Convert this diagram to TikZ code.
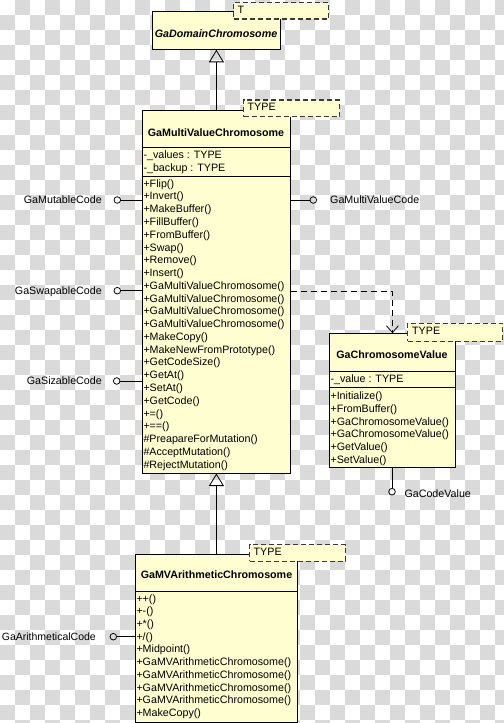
\documentclass[tikz,border=0pt]{standalone}
\usepackage{fontspec}
\setmainfont{Liberation Sans}
\usetikzlibrary{arrows.meta,calc}
\definecolor{classfill}{HTML}{FEFED0}
\definecolor{checkgray}{HTML}{DADADA}
\definecolor{tmplline}{HTML}{3A3A3A}
\tikzset{
  umlbox/.style={draw=black, line width=0.8bp, fill=classfill, rectangle, inner sep=0pt, anchor=north west},
  tmplbox/.style={draw=tmplline, line width=1.2bp, dash pattern=on 5bp off 3bp, fill=classfill, rectangle, inner sep=0pt, anchor=north west},
  txt/.style={font=\fontsize{10.7bp}{12.8bp}\selectfont, inner sep=0pt, anchor=west, text height=7.7bp, text depth=0bp},
  titletxt/.style={txt, anchor=center, font=\fontsize{10.7bp}{12.8bp}\selectfont\bfseries},
  divider/.style={draw=black, line width=0.8bp},
  conn/.style={draw=black, line width=0.8bp},
  gen/.style={conn, -{Triangle[open, length=12.5bp, width=15bp, line width=0.8bp]}},
  dep/.style={conn, dash pattern=on 6bp off 4bp, -{Straight Barb[length=7bp, width=12bp, line width=0.8bp]}},
  lolli/.style={circle, draw=black, line width=0.8bp, minimum size=6.6bp, inner sep=0pt}
}
\begin{document}
\begin{tikzpicture}[x=1bp,y=-1bp]
\useasboundingbox (0,0) rectangle (504,723);
% transparent-style checker background
\foreach \i in {0,...,33}{%
  \foreach \j in {0,...,48}{%
    \pgfmathtruncatemacro{\chk}{mod(\i+\j,2)}%
    \ifnum\chk=1 \fill[checkgray] (\i*15,\j*15) rectangle ++(15,15);\fi
  }%
}

% ---------- class boxes ----------
\node[umlbox, minimum width=128bp, minimum height=38bp] (dom) at (152,11) {};
\node[umlbox, minimum width=148bp, minimum height=362.7bp] (mvc) at (142,110) {};
\node[umlbox, minimum width=126bp, minimum height=133.4bp] (gcv) at (329,333.3) {};
\node[umlbox, minimum width=162bp, minimum height=167.7bp] (mvac) at (135,554) {};

% dividers
\draw[divider] ($(mvc.north west)+(0,37.3)$) -- ($(mvc.north east)+(0,37.3)$);
\draw[divider] ($(mvc.north west)+(0,66)$) -- ($(mvc.north east)+(0,66)$);
\draw[divider] ($(gcv.north west)+(0,37.7)$) -- ($(gcv.north east)+(0,37.7)$);
\draw[divider] ($(gcv.north west)+(0,54.4)$) -- ($(gcv.north east)+(0,54.4)$);
\draw[divider] ($(mvac.north west)+(0,37.7)$) -- ($(mvac.north east)+(0,37.7)$);

% ---------- template parameter boxes ----------
\node[tmplbox, minimum width=95bp, minimum height=16.5bp] (tdom) at (233,2) {};
\node[tmplbox, minimum width=96bp, minimum height=16.7bp] (tmvc) at (243,99.5) {};
\node[tmplbox, minimum width=95bp, minimum height=18bp] (tgcv) at (407,322.5) {};
\node[tmplbox, minimum width=96bp, minimum height=16.7bp] (tmvac) at (249,544) {};
\node[txt] (tdomt) at (237.5,9.5) {T};
\node[txt] (tmvct) at (247.5,106.5) {TYPE};
\node[txt] (tgcvt) at (412,331) {TYPE};
\node[txt] (tmvact) at (253.5,551.5) {TYPE};

% ---------- titles ----------
\node[titletxt, font=\fontsize{10.7bp}{12.8bp}\selectfont\bfseries\itshape] (domt) at (216,33.3) {GaDomainChromosome};
\node[titletxt] (mvct) at (216,132.7) {GaMultiValueChromosome};
\node[titletxt] (gcvt) at (392,355) {GaChromosomeValue};
\node[titletxt] (mvact) at (216.5,575) {GaMVArithmeticChromosome};

% ---------- attributes ----------
\node[txt] (mvca1) at (143.3,154.6) {-\_values : TYPE};
\node[txt] (mvca2) at (143.3,167.4) {-\_backup : TYPE};
\node[txt] (gcva1) at (330.3,379) {-\_value : TYPE};

% ---------- operations ----------
\foreach \t [count=\k from 0] in {+Flip(),+Invert(),+MakeBuffer(),+FillBuffer(),+FromBuffer(),+Swap(),+Remove(),+Insert(),+GaMultiValueChromosome(),+GaMultiValueChromosome(),+GaMultiValueChromosome(),+GaMultiValueChromosome(),+MakeCopy(),+MakeNewFromPrototype(),+GetCodeSize(),+GetAt(),+SetAt(),+GetCode(),+=(),+==(),\#PreapareForMutation(),\#AcceptMutation(),\#RejectMutation()}{%
  \node[txt] (mvcm\k) at (143.3,183.3+\k*12.77) {\t};
}
\foreach \t [count=\k from 0] in {+Initialize(),+FromBuffer(),+GaChromosomeValue(),+GaChromosomeValue(),+GetValue(),+SetValue()}{%
  \node[txt] (gcvm\k) at (330.3,396+\k*12.67) {\t};
}
\foreach \t [count=\k from 0] in {++(),+-(),+*(),+/(),+Midpoint(),+GaMVArithmeticChromosome(),+GaMVArithmeticChromosome(),+GaMVArithmeticChromosome(),+GaMVArithmeticChromosome(),+MakeCopy()}{%
  \node[txt] (mvacm\k) at (136.3,598.3+\k*12.71) {\t};
}

% ---------- generalizations ----------
\draw[gen] (mvc.north) -- (dom.south);
\draw[gen] (mvac.north) -- (mvc.south);

% ---------- interfaces (lollipops) ----------
\node[lolli] (lmut) at (117.3,200) {};
\node[lolli] (lswp) at (117.3,290.7) {};
\node[lolli] (lsiz) at (116.7,381) {};
\node[lolli] (lmv) at (313.3,200) {};
\node[lolli] (lcv) at (392,491.7) {};
\node[lolli] (lar) at (113.3,636.7) {};
\draw[conn] (lmut) -- (lmut -| mvc.west);
\draw[conn] (lswp) -- (lswp -| mvc.west);
\draw[conn] (lsiz) -- (lsiz -| mvc.west);
\draw[conn] (lmv) -- (lmv -| mvc.east);
\draw[conn] (lcv) -- (lcv |- gcv.south);
\draw[conn] (lar) -- (lar -| mvac.west);
\node[txt, anchor=east] (lmutl) at (102,199.3) {GaMutableCode};
\node[txt, anchor=east] (lswpl) at (102,290.3) {GaSwapableCode};
\node[txt, anchor=east] (lsizl) at (102,380.5) {GaSizableCode};
\node[txt] (lmvl) at (330,199.3) {GaMultiValueCode};
\node[txt] (lcvl) at (404.3,493.7) {GaCodeValue};
\node[txt, anchor=east, font=\fontsize{10.5bp}{12.8bp}\selectfont] (larl) at (96,636.3) {GaArithmeticalCode};

% ---------- dependency ----------
\draw[dep] ($(lswp -| mvc.east)+(0,1)$) -| (gcv.north);
\end{tikzpicture}
\end{document}
